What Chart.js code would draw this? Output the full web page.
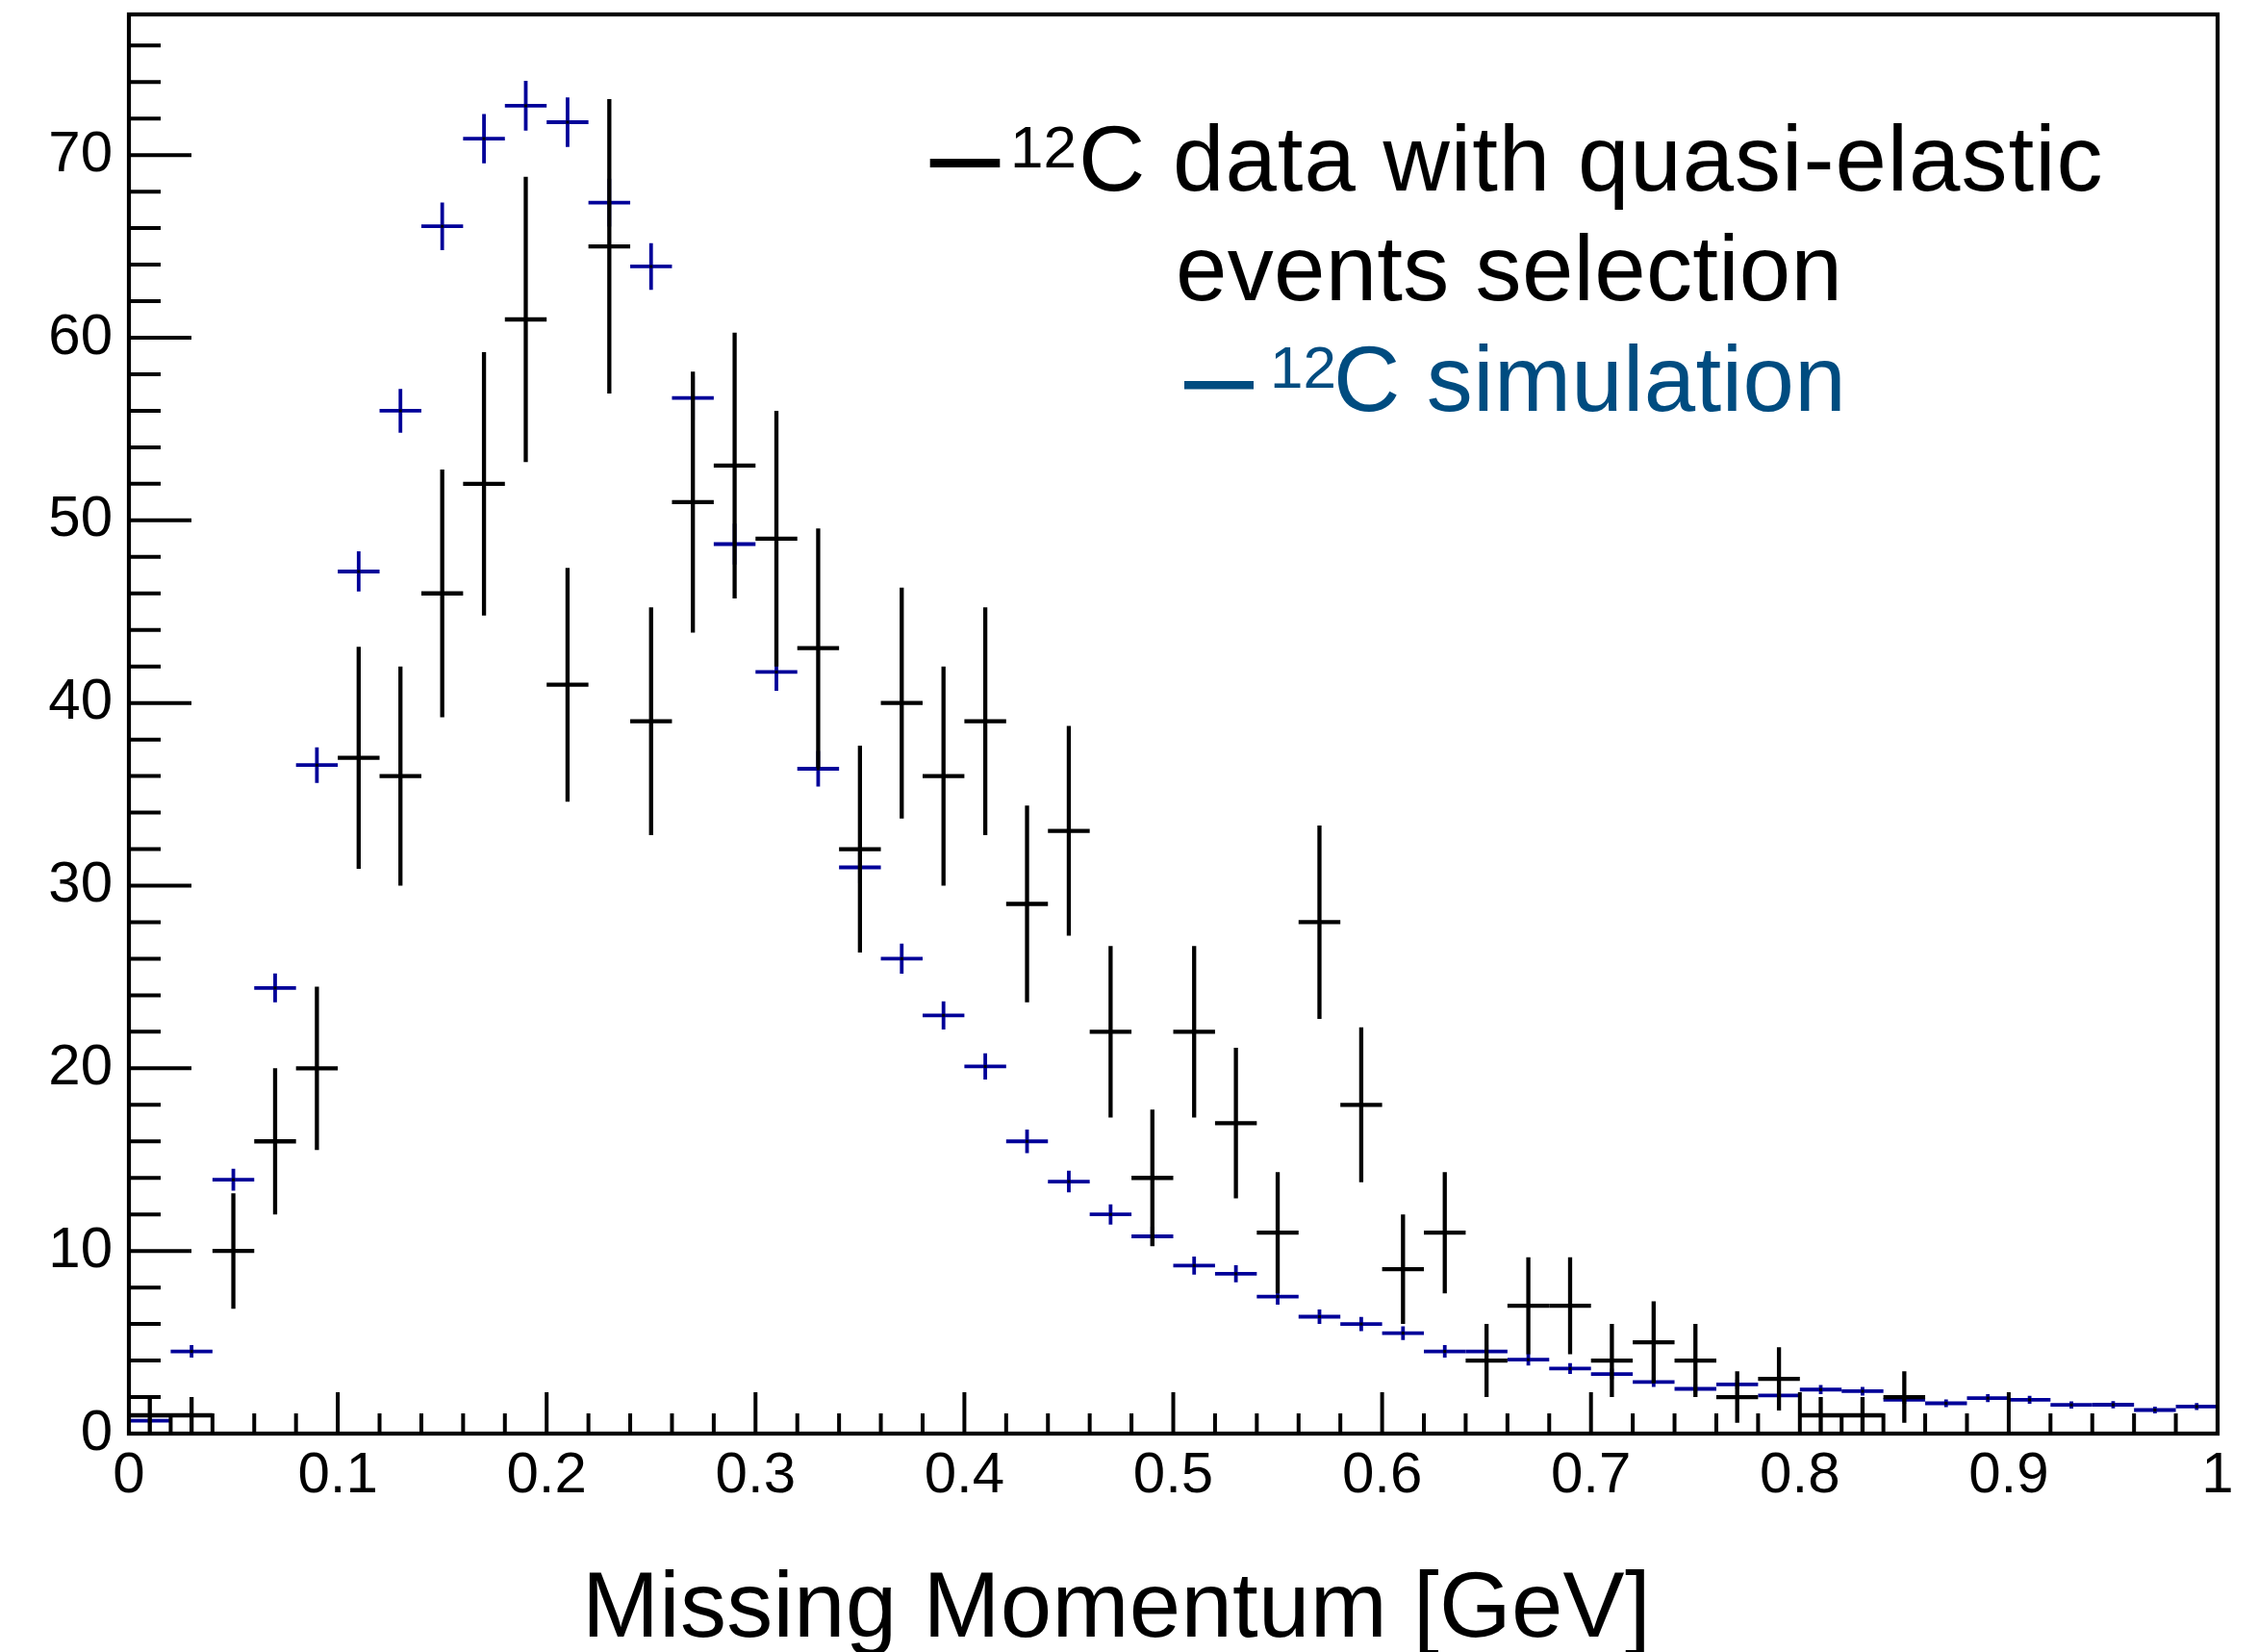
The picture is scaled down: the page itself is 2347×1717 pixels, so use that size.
<!DOCTYPE html>
<html><head><meta charset="utf-8">
<script src="https://cdn.jsdelivr.net/npm/chart.js@4/dist/chart.umd.min.js"></script>
<style>html,body{margin:0;padding:0;background:#fff}canvas{display:block}</style>
</head><body>
<canvas id="c" width="2347" height="1717"></canvas>
<script>
// ---- data ----
const binCenters = [0.01,0.03,0.05,0.07,0.09,0.11,0.13,0.15,0.17,0.19,0.21,0.23,0.25,0.27,0.29,0.31,0.33,0.35,0.37,0.39,0.41,0.43,0.45,0.47,0.49,0.51,0.53,0.55,0.57,0.59,0.61,0.63,0.65,0.67,0.69,0.71,0.73,0.75,0.77,0.79,0.81,0.83,0.85,0.87,0.89,0.91,0.93,0.95,0.97,0.99];
const binWidth = 0.02;
const dataCounts = [1,1,10,16,20,37,36,46,52,61,41,65,39,51,53,49,43,32,40,36,39,29,33,22,14,22,17,11,28,18,9,11,4,7,7,4,5,4,2,3,1,1,2,0,0,0,0,0,0,0];
const dataErrors = [1,1,3.16,4,4.47,6.08,6,6.78,7.21,7.81,6.4,8.06,6.24,7.14,7.28,7,6.56,5.66,6.32,6,6.24,5.39,5.74,4.69,3.74,4.69,4.12,3.32,5.29,4.24,3,3.32,2,2.65,2.65,2,2.24,2,1.41,1.73,1,1,1.41,0,0,0,0,0,0,0];
const simValues = [0.7,4.5,13.9,24.4,36.6,47.2,56.0,66.1,70.9,72.7,71.8,67.4,63.9,56.7,48.7,41.7,36.4,31.0,26.0,22.9,20.1,16.0,13.8,12.0,10.8,9.2,8.75,7.5,6.4,6.0,5.5,4.5,4.5,4.05,3.56,3.26,2.83,2.45,2.69,2.09,2.41,2.32,1.85,1.66,1.94,1.85,1.57,1.58,1.29,1.48];
const simErrors = [0.13,0.34,0.6,0.79,0.97,1.1,1.2,1.3,1.35,1.36,1.36,1.31,1.28,1.2,1.12,1.03,0.97,0.89,0.82,0.77,0.72,0.64,0.59,0.55,0.53,0.49,0.47,0.44,0.4,0.39,0.38,0.34,0.34,0.32,0.3,0.29,0.27,0.25,0.26,0.23,0.25,0.24,0.22,0.21,0.22,0.22,0.2,0.2,0.18,0.19];
const xTickValues = [0,0.1,0.2,0.3,0.4,0.5,0.6,0.7,0.8,0.9,1];
const xTickLabels = ['0','0.1','0.2','0.3','0.4','0.5','0.6','0.7','0.8','0.9','1'];
const yTickValues = [0,10,20,30,40,50,60,70];
const yTickLabels = ['0','10','20','30','40','50','60','70'];
const xMinorStep = 0.02, yMinorStep = 2;
const xRange = [0, 1], yRange = [0, 77.7];
const xTitle = 'Missing Momentum [GeV]';
const legendDataLines = ['C data with quasi-elastic', 'events selection'];
const legendSimLine = 'C simulation';
const legendSup = '12';

const FONT = '"Liberation Sans", Arial, Helvetica, sans-serif';
const SIM_COLOR = '#000099';
const LEG_BLUE = '#004c80';

const histPlugin = {
  id: 'hist',
  afterDatasetsDraw(chart) {
    const {ctx, chartArea: a, scales: {x, y}} = chart;
    ctx.save();
    ctx.beginPath(); ctx.rect(a.left, a.top, a.right - a.left, a.bottom - a.top); ctx.clip();
    chart.data.datasets.forEach((ds) => {
      ctx.strokeStyle = ds.borderColor; ctx.lineWidth = ds.crossWidth; ctx.lineCap = 'butt';
      ds.data.forEach((p, i) => {
        if (p.y <= 0) return;
        const e = ds.errors[i];
        const xl = x.getPixelForValue(p.x - binWidth / 2), xr = x.getPixelForValue(p.x + binWidth / 2);
        const xc = x.getPixelForValue(p.x), yc = y.getPixelForValue(p.y);
        const yt = y.getPixelForValue(p.y + e), yb = y.getPixelForValue(Math.max(0, p.y - e));
        ctx.beginPath();
        ctx.moveTo(xl, yc); ctx.lineTo(xr, yc);
        ctx.moveTo(xc, yt); ctx.lineTo(xc, yb);
        ctx.stroke();
        ctx.fillStyle = '#000';
        ctx.fillRect(xc - 1.5, yc - 1.5, 3, 3);
      });
    });
    ctx.restore();
  },
  afterDraw(chart) {
    const {ctx, chartArea: a, scales: {x, y}} = chart;
    ctx.save();
    ctx.strokeStyle = '#000'; ctx.lineWidth = 4;
    // ticks (inside)
    ctx.beginPath();
    for (let k = 0; k <= Math.round((xRange[1] - xRange[0]) / xMinorStep); k++) {
      const v = xRange[0] + k * xMinorStep;
      const major = xTickValues.some(t => Math.abs(t - v) < 1e-6);
      const px = x.getPixelForValue(v);
      ctx.moveTo(px, a.bottom); ctx.lineTo(px, a.bottom - (major ? 43 : 21));
    }
    for (let k = 0; k * yMinorStep <= yRange[1]; k++) {
      const v = k * yMinorStep;
      const major = yTickValues.some(t => Math.abs(t - v) < 1e-6);
      const py = y.getPixelForValue(v);
      ctx.moveTo(a.left, py); ctx.lineTo(a.left + (major ? 65 : 33), py);
    }
    ctx.stroke();
    // frame
    ctx.lineWidth = 4.2;
    ctx.strokeRect(a.left, a.top, a.right - a.left, a.bottom - a.top);

    // axis title
    ctx.fillStyle = '#000';
    ctx.textBaseline = 'alphabetic'; ctx.textAlign = 'left';
    ctx.font = '96px ' + FONT;
    ctx.letterSpacing = '0.3px';
    ctx.fillText(xTitle, 605, 1701);

    // legend
    ctx.fillRect(966.7, 165, 72.6, 9);
    ctx.letterSpacing = '0px';
    ctx.font = '62px ' + FONT;
    ctx.fillText(legendSup, 1050, 174);
    ctx.font = '96px ' + FONT;
    ctx.letterSpacing = '1px';
    ctx.fillText(legendDataLines[0], 1121, 197.5);
    ctx.letterSpacing = '0.3px';
    ctx.fillText(legendDataLines[1], 1222, 311.7);
    ctx.fillStyle = LEG_BLUE;
    ctx.fillRect(1231, 396, 72, 8.5);
    ctx.letterSpacing = '0px';
    ctx.font = '62px ' + FONT;
    ctx.fillText(legendSup, 1320, 402.7);
    ctx.font = '96px ' + FONT;
    ctx.letterSpacing = '0.4px';
    ctx.fillText(legendSimLine, 1386, 426.7);
    ctx.restore();
  }
};

new Chart(document.getElementById('c'), {
  type: 'scatter',
  data: {
    datasets: [
      { label: 'sim', data: binCenters.map((c, i) => ({x: c, y: simValues[i]})), errors: simErrors,
        borderColor: SIM_COLOR, backgroundColor: SIM_COLOR, crossWidth: 3.8, pointRadius: 0, showLine: false },
      { label: 'data', data: binCenters.map((c, i) => ({x: c, y: dataCounts[i]})), errors: dataErrors,
        borderColor: '#000', backgroundColor: '#000', crossWidth: 4.3, pointRadius: 0, showLine: false }
    ]
  },
  options: {
    responsive: false, animation: false, devicePixelRatio: 1,
    layout: { padding: { left: 0, top: 15, right: 42, bottom: 0 } },
    plugins: { legend: { display: false }, tooltip: { enabled: false } },
    scales: {
      x: {
        type: 'linear', min: xRange[0], max: xRange[1],
        grid: { display: false, drawTicks: false }, border: { display: false },
        afterBuildTicks: (s) => { s.ticks = xTickValues.map(v => ({value: v})); },
        afterFit: (s) => { s.height = 227; s.paddingLeft = 0; s.paddingRight = 0; },
        ticks: { color: '#000', padding: 8, maxRotation: 0, autoSkip: false,
          font: { family: FONT, size: 60 },
          callback: (v, i) => xTickLabels[i] }
      },
      y: {
        type: 'linear', min: yRange[0], max: yRange[1],
        grid: { display: false, drawTicks: false }, border: { display: false },
        afterBuildTicks: (s) => { s.ticks = yTickValues.map(v => ({value: v})); },
        afterFit: (s) => { s.width = 134; s.paddingTop = 0; s.paddingBottom = 0; },
        ticks: { color: '#000', padding: 17, autoSkip: false,
          font: { family: FONT, size: 60 },
          callback: (v, i) => yTickLabels[i] }
      }
    }
  },
  plugins: [histPlugin]
});
</script>
</body></html>
